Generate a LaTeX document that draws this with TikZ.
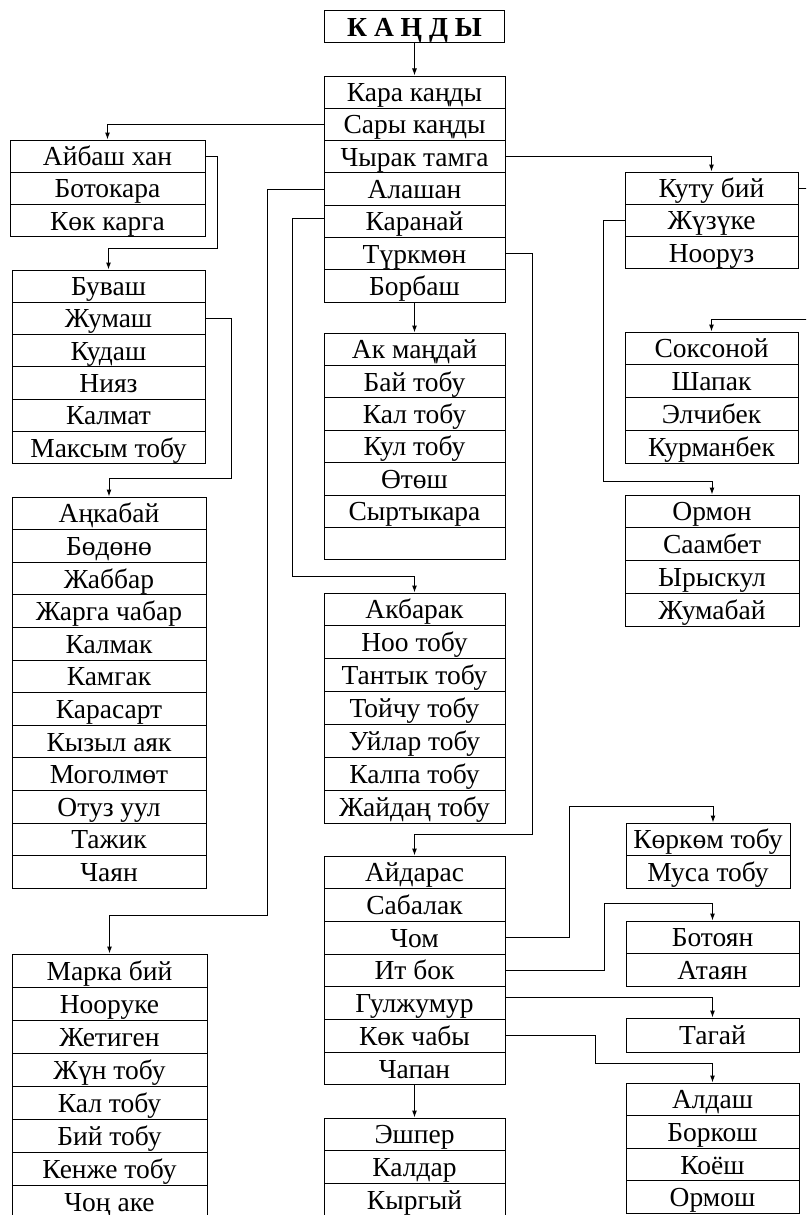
\documentclass[tikz,border=0pt]{standalone}
\usepackage{fontspec}
\setmainfont{Liberation Serif}
\usetikzlibrary{arrows.meta,calc}
\tikzset{
  cell/.style={draw, line width=1pt, inner sep=0pt, text height=21pt, text depth=2pt,
    font=\fontsize{27.5}{30}\selectfont, anchor=center},
  link/.style={line width=1pt, -{Latex[length=7pt,width=5pt]}},
}
\newcommand{\cellbox}[6]{%
  \foreach \t [count=\i] in {#6} {
    \node[cell, minimum width={#3-#2}, minimum height=#5] (#1-\i) at ({(#2+#3)/2},{#4+(\i-0.5)*#5}) {\t};
  }%
}
\begin{document}
\begin{tikzpicture}[x=1pt,y=-1pt]
\useasboundingbox (0,0) rectangle (806,1215);
\clip (0,0) rectangle (806,1215);
% title
\node[cell, font=\fontsize{27.5}{30}\selectfont\bfseries, minimum width=180, minimum height=32] (T) at (414.5,27) {К А Ң Д Ы};
% centre column
\cellbox{C1}{324}{505}{76}{32.3}{Кара каңды, Сары каңды, Чырак тамга, Алашан, Каранай, Түркмөн, Борбаш}
\cellbox{C2}{324}{505}{333}{32.4}{Ак маңдай, Бай тобу, Кал тобу, Кул тобу, Өтөш, Сыртыкара, {}}
\cellbox{C3}{324}{505}{593}{32.9}{Акбарак, Ноо тобу, Тантык тобу, Тойчу тобу, Уйлар тобу, Калпа тобу, Жайдаң тобу}
\cellbox{C4}{324}{505}{856}{32.7}{Айдарас, Сабалак, Чом, Ит бок, Гулжумур, Көк чабы, Чапан}
\cellbox{C5}{324}{505}{1118}{32.7}{Эшпер, Калдар, Кыргый}
% left column
\cellbox{L1}{10}{205}{140}{32.3}{Айбаш хан, Ботокара, Көк карга}
\cellbox{L2}{12}{205}{270}{32.33}{Буваш, Жумаш, Кудаш, Нияз, Калмат, Максым тобу}
\cellbox{L3}{12}{206}{497}{32.6}{Аңкабай, Бөдөнө, Жаббар, Жарга чабар, Калмак, Камгак, Карасарт, Кызыл аяк, Моголмөт, Отуз уул, Тажик, Чаян}
\cellbox{L4}{12}{207}{954}{33}{Марка бий, Нооруке, Жетиген, Жүн тобу, Кал тобу, Бий тобу, Кенже тобу, Чоң аке}
% right column
\cellbox{R1}{625}{798}{172}{32.3}{Куту бий, Жүзүке, Нооруз}
\cellbox{R2}{625}{798}{332}{32.8}{Соксоной, Шапак, Элчибек, Курманбек}
\cellbox{R3}{625}{799}{495}{32.8}{Ормон, Саамбет, Ырыскул, Жумабай}
\cellbox{R4}{626}{790}{823}{32.5}{Көркөм тобу, Муса тобу}
\cellbox{R5}{626}{799}{921}{32.5}{Ботоян, Атаян}
\cellbox{R6}{626}{799}{1018}{34}{Тагай}
\cellbox{R7}{626}{799}{1083}{32.6}{Алдаш, Боркош, Коёш, Ормош}
% bend points
\coordinate (j1) at (217,248);
\coordinate (j2) at (231,478);
\coordinate (j3) at (267,915);
\coordinate (j4) at (292,576);
\coordinate (j5) at (532,834);
\coordinate (j6) at (818,319);
\coordinate (j7) at (603,481);
\coordinate (j8) at (569,806);
\coordinate (j9) at (604,903);
\coordinate (j10) at (595,1063);
% connectors
\draw[link] (T.south) -- (C1-1.north);
\draw[link] (C1-2.west) -| (L1-1.north);
\draw[link] (L1-1.east) -| (j1) -| (L2-1.north);
\draw[link] (L2-2.east) -| (j2) -| (L3-1.north);
\draw[link] (C1-4.west) -| (j3) -| (L4-1.north);
\draw[link] ([yshift=3pt]C1-5.west) -| (j4) -| (C3-1.north);
\draw[link] (C1-7.south) -- (C2-1.north);
\draw[link] (C1-6.east) -| (j5) -| (C4-1.north);
\draw[link] (C4-7.south) -- (C5-1.north);
\draw[link] (C1-3.east) -| (R1-1.north);
\draw[link] (R1-1.east) -| (j6) -| (R2-1.north);
\draw[link] (R1-2.west) -| (j7) -| (R3-1.north);
\draw[link] (C4-3.east) -| (j8) -| ([xshift=5pt]R4-1.north);
\draw[link] (C4-4.east) -| (j9) -| (R5-1.north);
\draw[link] ([yshift=6pt]C4-5.east) -| (R6-1.north);
\draw[link] (C4-6.east) -| (j10) -| (R7-1.north);
\end{tikzpicture}
\end{document}
